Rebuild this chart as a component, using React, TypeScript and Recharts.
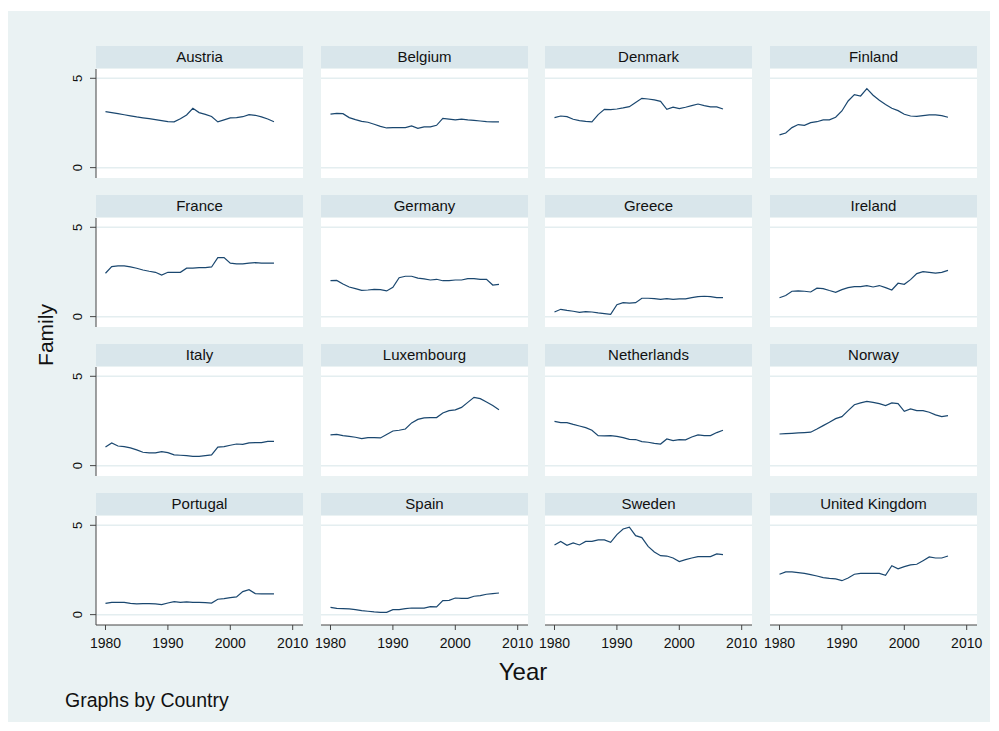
import { LineChart, Line, XAxis, YAxis, CartesianGrid } from 'recharts'

const years = [
  1980, 1981, 1982, 1983, 1984, 1985, 1986, 1987, 1988, 1989,
  1990, 1991, 1992, 1993, 1994, 1995, 1996, 1997, 1998, 1999,
  2000, 2001, 2002, 2003, 2004, 2005, 2006, 2007,
]

const austria = [3.13, 3.08, 3.02, 2.96, 2.9, 2.84, 2.79, 2.74, 2.69, 2.63, 2.57, 2.56, 2.74, 2.95, 3.32, 3.08, 2.98, 2.86, 2.56, 2.67, 2.78, 2.8, 2.85, 2.97, 2.93, 2.84, 2.72, 2.57]
const belgium = [2.99, 3.04, 3.02, 2.8, 2.69, 2.59, 2.54, 2.43, 2.31, 2.22, 2.24, 2.24, 2.24, 2.33, 2.2, 2.28, 2.28, 2.37, 2.76, 2.72, 2.67, 2.72, 2.67, 2.65, 2.61, 2.57, 2.56, 2.56]
const denmark = [2.8, 2.89, 2.85, 2.71, 2.63, 2.59, 2.56, 2.97, 3.26, 3.25, 3.28, 3.34, 3.41, 3.64, 3.88, 3.84, 3.79, 3.71, 3.26, 3.38, 3.3, 3.38, 3.47, 3.56, 3.47, 3.4, 3.4, 3.28]
const finland = [1.83, 1.94, 2.24, 2.41, 2.37, 2.52, 2.57, 2.67, 2.67, 2.82, 3.17, 3.73, 4.09, 4.01, 4.42, 4.05, 3.77, 3.53, 3.32, 3.19, 2.99, 2.89, 2.87, 2.91, 2.95, 2.95, 2.91, 2.82]
const france = [2.43, 2.8, 2.84, 2.84, 2.78, 2.71, 2.61, 2.54, 2.48, 2.33, 2.48, 2.48, 2.48, 2.71, 2.71, 2.74, 2.74, 2.78, 3.3, 3.3, 2.99, 2.95, 2.95, 2.99, 3.02, 3.0, 3.0, 3.0]
const germany = [2.01, 2.03, 1.83, 1.66, 1.57, 1.47, 1.49, 1.53, 1.51, 1.44, 1.64, 2.18, 2.26, 2.26, 2.16, 2.11, 2.05, 2.09, 2.01, 2.01, 2.05, 2.05, 2.13, 2.13, 2.09, 2.09, 1.77, 1.81]
const greece = [0.26, 0.41, 0.35, 0.3, 0.24, 0.28, 0.26, 0.21, 0.17, 0.13, 0.67, 0.78, 0.76, 0.78, 1.03, 1.03, 1.01, 0.97, 1.01, 0.97, 0.99, 0.99, 1.06, 1.12, 1.14, 1.12, 1.06, 1.06]
const ireland = [1.06, 1.18, 1.42, 1.44, 1.42, 1.38, 1.59, 1.57, 1.46, 1.36, 1.51, 1.62, 1.68, 1.68, 1.74, 1.66, 1.74, 1.62, 1.49, 1.87, 1.81, 2.07, 2.41, 2.52, 2.48, 2.44, 2.48, 2.59]
const italy = [1.04, 1.27, 1.1, 1.06, 0.99, 0.88, 0.75, 0.71, 0.71, 0.78, 0.73, 0.6, 0.58, 0.56, 0.52, 0.52, 0.56, 0.6, 1.04, 1.06, 1.14, 1.21, 1.19, 1.27, 1.29, 1.29, 1.36, 1.36]
const luxembourg = [1.72, 1.75, 1.68, 1.64, 1.59, 1.51, 1.57, 1.57, 1.55, 1.74, 1.94, 1.98, 2.05, 2.39, 2.59, 2.67, 2.69, 2.69, 2.95, 3.08, 3.12, 3.26, 3.54, 3.82, 3.75, 3.56, 3.36, 3.13]
const netherlands = [2.48, 2.41, 2.41, 2.31, 2.22, 2.13, 1.98, 1.68, 1.66, 1.68, 1.64, 1.57, 1.47, 1.46, 1.34, 1.31, 1.25, 1.21, 1.49, 1.4, 1.46, 1.44, 1.6, 1.72, 1.68, 1.68, 1.85, 1.98]
const norway = [1.77, 1.79, 1.81, 1.83, 1.85, 1.87, 2.05, 2.24, 2.43, 2.63, 2.74, 3.08, 3.41, 3.51, 3.6, 3.54, 3.47, 3.36, 3.51, 3.47, 3.04, 3.17, 3.08, 3.08, 2.99, 2.84, 2.74, 2.8]
const portugal = [0.63, 0.69, 0.69, 0.69, 0.63, 0.6, 0.62, 0.62, 0.6, 0.56, 0.65, 0.73, 0.69, 0.71, 0.69, 0.69, 0.67, 0.65, 0.86, 0.9, 0.95, 0.99, 1.29, 1.4, 1.18, 1.16, 1.16, 1.16]
const spain = [0.41, 0.35, 0.34, 0.32, 0.28, 0.22, 0.19, 0.15, 0.13, 0.13, 0.28, 0.28, 0.34, 0.37, 0.37, 0.37, 0.45, 0.43, 0.78, 0.8, 0.93, 0.91, 0.91, 1.03, 1.06, 1.14, 1.18, 1.21]
const sweden = [3.9, 4.09, 3.88, 4.01, 3.9, 4.1, 4.1, 4.18, 4.18, 4.05, 4.48, 4.79, 4.89, 4.42, 4.31, 3.82, 3.51, 3.3, 3.28, 3.17, 2.97, 3.08, 3.17, 3.25, 3.25, 3.25, 3.4, 3.36]
const unitedKingdom = [2.26, 2.39, 2.39, 2.35, 2.31, 2.24, 2.16, 2.07, 2.03, 2.0, 1.9, 2.05, 2.26, 2.31, 2.31, 2.31, 2.31, 2.2, 2.74, 2.56, 2.69, 2.78, 2.82, 3.02, 3.23, 3.17, 3.17, 3.28]

const countries = [
  'Austria', 'Belgium', 'Denmark', 'Finland',
  'France', 'Germany', 'Greece', 'Ireland',
  'Italy', 'Luxembourg', 'Netherlands', 'Norway',
  'Portugal', 'Spain', 'Sweden', 'United Kingdom',
]
const series = [
  austria, belgium, denmark, finland,
  france, germany, greece, ireland,
  italy, luxembourg, netherlands, norway,
  portugal, spain, sweden, unitedKingdom,
]

const xTicks = [1980, 1990, 2000, 2010]
const yTicks = [0, 5]

const FONT = '"Liberation Sans", Arial, Helvetica, sans-serif'
const BG = '#eaf2f3'
const STRIP = '#d9e6eb'
const LINE = '#1a476f'
const AXIS = '#444'

const colLeft = [96, 321, 545, 770]
const PLOT_W = 207
const PLOT_H = 109
const ROW_TOP = 69
const ROW_STEP = 149
const Y_AXIS_W = 30
const X_AXIS_H = 30
const PAD = 20

function YTick(props: any) {
  const { x, y, payload } = props
  const bx = x - 6
  return (
    <text
      x={bx}
      y={y}
      transform={`rotate(-90 ${bx} ${y})`}
      textAnchor="middle"
      fontSize={13}
      fill="#111"
      fontFamily={FONT}
    >
      {payload.value}
    </text>
  )
}

function Panel({ idx }: { idx: number }) {
  const r = Math.floor(idx / 4)
  const c = idx % 4
  const isLeft = c === 0
  const isBottom = r === 3
  const plotLeft = colLeft[c]
  const plotTop = ROW_TOP + r * ROW_STEP
  const vals = series[idx]
  const data = years.map((yr, i) => ({ year: yr, value: vals[i] }))
  const leftPad = isLeft ? 0 : PAD
  const w = PLOT_W + (isLeft ? Y_AXIS_W : 0) + leftPad + PAD
  const h = PLOT_H + (isBottom ? X_AXIS_H : 0)
  return (
    <>
      <div
        style={{
          position: 'absolute',
          left: plotLeft,
          top: plotTop - 23,
          width: PLOT_W,
          height: 22,
          background: STRIP,
          textAlign: 'center',
          lineHeight: '22px',
          fontSize: 15,
          color: '#111',
        }}
      >
        {countries[idx]}
      </div>
      <div style={{ position: 'absolute', left: plotLeft - (isLeft ? Y_AXIS_W : 0) - leftPad, top: plotTop }}>
        <LineChart width={w} height={h} data={data} margin={{ top: 0, right: PAD, bottom: 0, left: leftPad }}>
          <CartesianGrid
            fill="#fff"
            vertical={false}
            horizontalValues={yTicks}
            stroke="#e4eef0"
            strokeWidth={1.5}
          />
          <XAxis
            dataKey="year"
            type="number"
            domain={[1978.48, 2011.65]}
            ticks={xTicks}
            interval={0}
            hide={!isBottom}
            height={X_AXIS_H}
            tickSize={5}
            tickMargin={8}
            stroke={AXIS}
            tick={{ fontSize: 14, fill: '#111', fontFamily: FONT }}
            allowDataOverflow
          />
          <YAxis
            type="number"
            domain={[-0.58, 5.52]}
            ticks={yTicks}
            interval={0}
            hide={!isLeft}
            width={Y_AXIS_W}
            tickSize={6}
            tickMargin={2}
            stroke={AXIS}
            tick={<YTick />}
            allowDataOverflow
          />
          <Line
            type="linear"
            dataKey="value"
            stroke={LINE}
            strokeWidth={1.2}
            dot={false}
            isAnimationActive={false}
          />
        </LineChart>
      </div>
    </>
  )
}

export default function App() {
  return (
    <div
      style={{
        position: 'absolute',
        left: 0,
        top: 0,
        width: 999,
        height: 731,
        background: '#fff',
        fontFamily: FONT,
        overflow: 'hidden',
      }}
    >
      <div style={{ position: 'absolute', left: 8, top: 11, width: 982, height: 711, background: BG }} />
      {countries.map((_, i) => (
        <Panel key={i} idx={i} />
      ))}
      <div
        style={{
          position: 'absolute',
          left: 46,
          top: 335,
          transform: 'translate(-50%, -50%) rotate(-90deg)',
          fontSize: 21,
          color: '#111',
          whiteSpace: 'nowrap',
        }}
      >
        Family
      </div>
      <div
        style={{
          position: 'absolute',
          left: 523,
          top: 672,
          transform: 'translate(-50%, -50%)',
          fontSize: 24,
          color: '#111',
          whiteSpace: 'nowrap',
        }}
      >
        Year
      </div>
      <div
        style={{
          position: 'absolute',
          left: 65,
          top: 700,
          transform: 'translateY(-50%)',
          fontSize: 19.5,
          color: '#111',
          whiteSpace: 'nowrap',
        }}
      >
        Graphs by Country
      </div>
    </div>
  )
}
